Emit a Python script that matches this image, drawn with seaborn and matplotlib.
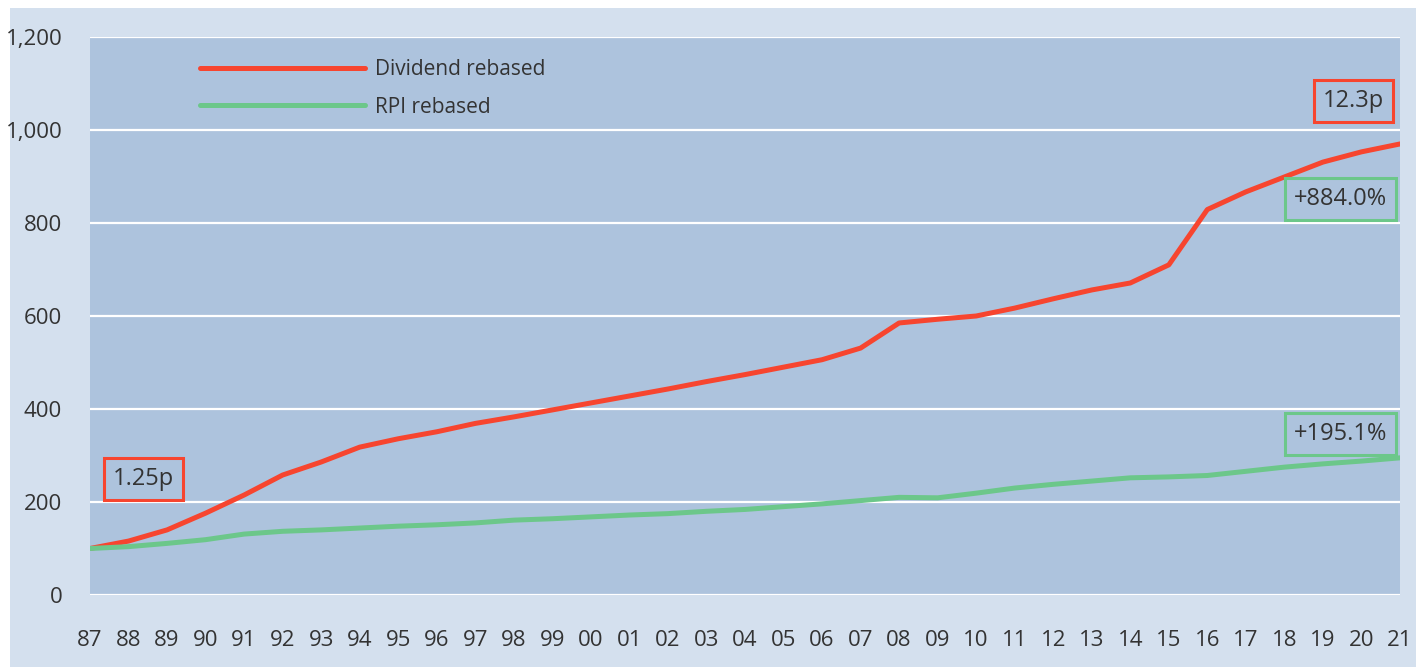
import pandas as pd
import numpy as np
import matplotlib.pyplot as plt
import matplotlib.patches as mpatches
import seaborn as sns

# data (rebased to 100 in 1987)
years = ['87', '88', '89', '90', '91', '92', '93', '94', '95', '96', '97', '98',
         '99', '00', '01', '02', '03', '04', '05', '06', '07', '08', '09', '10',
         '11', '12', '13', '14', '15', '16', '17', '18', '19', '20', '21']
dividend = [100, 116, 140, 176, 215, 258, 286, 318, 336, 351, 369, 383,
            398, 413, 428, 443, 459, 474, 490, 506, 531, 585, 593, 600,
            617, 637, 656, 671, 710, 829, 867, 899, 931, 953, 970]
rpi = [100, 104, 111, 119, 131, 137, 140, 144, 148, 151, 155, 161,
       164, 168, 172, 175, 180, 184, 190, 196, 203, 210, 209, 219,
       230, 238, 245, 252, 254, 257, 266, 275, 282, 288, 295]
series_names = ['Dividend rebased', 'RPI rebased']
yticks = [0, 200, 400, 600, 800, 1000, 1200]

red = '#f7452f'
green = '#6cc78a'
txt = '#333333'

df = pd.DataFrame({'idx': list(range(len(years))) * 2,
                   'value': dividend + rpi,
                   'series': [series_names[0]] * len(years) + [series_names[1]] * len(years)})

sns.set_style('white')
plt.rcParams['font.family'] = ['Open Sans', 'DejaVu Sans']

fig = plt.figure(figsize=(14.16, 6.67), dpi=100, facecolor='white')
fig.patches.append(mpatches.Rectangle((10 / 1416, 0), 1, 1 - 8 / 667, transform=fig.transFigure,
                                      facecolor='#d4e0ee', edgecolor='none', zorder=-10))
ax = fig.add_axes([90 / 1416, 1 - 595 / 667, 1310 / 1416, 558 / 667])
ax.set_facecolor('#adc3dd')

sns.lineplot(data=df, x='idx', y='value', hue='series', palette=[red, green],
             linewidth=3.6, ax=ax, zorder=3)

ax.set_xlim(0, len(years) - 1)
ax.set_ylim(0, 1200)
ax.set_xticks(range(len(years)))
ax.set_xticklabels(years)
ax.set_yticks(yticks)
ax.set_yticklabels([f'{v:,}' for v in yticks])
ax.yaxis.grid(True, color='white', linewidth=1.6)
ax.set_axisbelow(True)
for s in ax.spines.values():
    s.set_visible(False)
ax.tick_params(axis='x', length=0, pad=25, labelsize=16, labelcolor=txt)
ax.tick_params(axis='y', length=0, pad=20, labelsize=16, labelcolor=txt)
ax.set_xlabel('')
ax.set_ylabel('')

leg = ax.legend(loc='upper left', bbox_to_anchor=(0.084, 0.96), frameon=False,
                fontsize=15, handlelength=7.9, handletextpad=0.48, labelspacing=0.78,
                borderpad=0, borderaxespad=0)
for t in leg.get_texts():
    t.set_color(txt)
for h in leg.get_lines():
    h.set_linewidth(3.6)

def box(x, y, s, c):
    ax.text(x, y, s, ha='center', va='center', fontsize=17, color=txt, zorder=5,
            bbox=dict(boxstyle='square,pad=0.38', facecolor='none', edgecolor=c, linewidth=2.2))

box(32.8, 1062, '12.3p', red)
box(32.45, 852, '+884.0%', green)
box(32.45, 346, '+195.1%', green)
box(1.38, 249, '1.25p', red)

fig.savefig('out.png', dpi=100)
